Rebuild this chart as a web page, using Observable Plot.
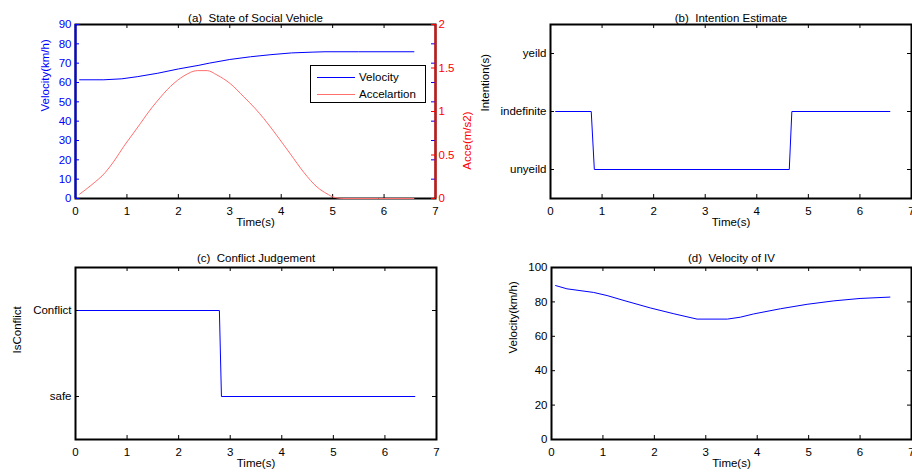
<!DOCTYPE html>
<html><head><meta charset="utf-8">
<script src="https://cdn.jsdelivr.net/npm/d3@7"></script>
<script src="https://cdn.jsdelivr.net/npm/@observablehq/plot@0.6"></script>
<style>
body{margin:0;background:#fff;}
#wrap{position:relative;width:912px;height:476px;overflow:hidden;font-family:"Liberation Sans",Arial,sans-serif;}
#wrap svg{position:absolute;left:0;top:0;}
.legend{position:absolute;left:310px;top:65px;width:114px;height:36px;border:1px solid #000;background:#fff;font-size:11.5px;color:#000;}
.legend .row{position:absolute;left:0;height:14px;line-height:14px;}
.legend .sw{position:absolute;left:6px;width:38px;height:1px;top:7px;}
.legend .lb{position:absolute;left:48px;top:0;white-space:nowrap;}
</style></head><body><div id="wrap"></div>
<script>
// ---------- data ----------
const timeTicks = [0, 1, 2, 3, 4, 5, 6, 7];
const svVelocityTicks = [0, 10, 20, 30, 40, 50, 60, 70, 80, 90];
const svAccelTicks = [0, 0.5, 1, 1.5, 2];
const ivVelocityTicks = [0, 20, 40, 60, 80, 100];

const titles = ["(a)\u00a0 State of Social Vehicle", "(b)\u00a0 Intention Estimate", "(c)\u00a0 Conflict Judgement", "(d)\u00a0 Velocity of IV"];
const legendNames = ["Velocity", "Accelartion"];

// (a) social vehicle velocity (km/h)
const svTime     = [0.08, 0.55, 0.9, 1.2, 1.6, 2.0, 2.4, 2.6, 3.0, 3.4, 3.8, 4.2, 4.6, 4.85, 5.5, 6.58];
const svVelocity = [61.4, 61.4, 61.9, 63.0, 64.8, 67.0, 68.9, 70.0, 71.9, 73.3, 74.4, 75.3, 75.7, 75.9, 75.9, 75.9];
// (a) social vehicle acceleration (m/s2)
const accTime  = [0.08, 0.32, 0.58, 0.75, 0.94, 1.1, 1.26, 1.39, 1.59, 1.85, 2.11, 2.37, 2.56, 2.75, 3.01, 3.27, 3.5, 3.66, 3.92, 4.18, 4.44, 4.7, 4.89, 5.02, 5.2, 6.58];
const accValue = [0.05, 0.16, 0.30, 0.43, 0.60, 0.73, 0.86, 0.97, 1.12, 1.29, 1.41, 1.47, 1.47, 1.42, 1.32, 1.17, 1.03, 0.92, 0.72, 0.51, 0.30, 0.13, 0.054, 0.015, 0, 0];

// (b) intention estimate
const intentionLevels = ["unyeild", "indefinite", "yeild"];
const intentionTime  = [0.1, 0.79, 0.85, 4.63, 4.68, 6.58];
const intentionState = ["indefinite", "indefinite", "unyeild", "unyeild", "indefinite", "indefinite"];

// (c) conflict judgement
const conflictLevels = ["safe", "Conflict"];
const conflictTime  = [0.05, 2.79, 2.83, 6.58];
const conflictState = ["Conflict", "Conflict", "safe", "safe"];

// (d) velocity of IV (km/h)
const ivTime     = [0.08, 0.3, 0.82, 1.08, 1.41, 1.92, 2.38, 2.83, 3.42, 3.67, 3.93, 4.45, 4.97, 5.49, 6.0, 6.58];
const ivVelocity = [89.5, 87.6, 85.5, 83.7, 80.8, 76.5, 73.1, 70.0, 70.0, 71.1, 73.0, 76.0, 78.6, 80.6, 82.0, 82.8];

// ---------- helpers ----------
const W = 912, H = 476;
const FONT = '"Liberation Sans", Arial, sans-serif';
const FS = "11.5px";
const TL = 4; // inward tick length
const FRAME_W = 2;
const zip = (xs, ys) => xs.map((x, i) => ({x, y: ys[i]}));
const fmt = d => String(d);

function base(m) {
  return {
    width: W, height: H,
    marginLeft: m.l, marginRight: W - m.r, marginTop: m.t, marginBottom: H - m.b,
    style: {background: "transparent", overflow: "visible", fontFamily: FONT, fontSize: FS, color: "black"}
  };
}
function inwardX(m, ticks) {
  const fh = m.b - m.t;
  return [
    Plot.tickX(ticks, {x: d => d, insetTop: fh - TL, stroke: "black"}),
    Plot.tickX(ticks, {x: d => d, insetBottom: fh - TL, stroke: "black"})
  ];
}
function inwardY(m, ticks, color, sides) {
  const fw = m.r - m.l;
  const out = [];
  if (sides.includes("left")) out.push(Plot.tickY(ticks, {y: d => d, insetRight: fw - TL, stroke: color}));
  if (sides.includes("right")) out.push(Plot.tickY(ticks, {y: d => d, insetLeft: fw - TL, stroke: color}));
  return out;
}
function xAxis() {
  return Plot.axisX({ticks: timeTicks, tickFormat: fmt, tickSize: 0, tickPadding: 8, label: null, fill: "black"});
}

const wrap = document.getElementById("wrap");

// ---------- (a) velocity (left axis) ----------
const mA = {l: 75, r: 435, t: 24, b: 198};
wrap.append(Plot.plot({
  ...base(mA),
  x: {domain: [0, 7]},
  y: {domain: [0, 90]},
  marks: [
    Plot.frame({stroke: "black", strokeWidth: FRAME_W}),
    Plot.ruleX([0], {stroke: "blue", strokeWidth: FRAME_W}),
    ...inwardX(mA, timeTicks.slice(1, -1)),
    ...inwardY(mA, svVelocityTicks, "blue", ["left", "right"]),
    xAxis(),
    Plot.axisY({ticks: svVelocityTicks, tickFormat: fmt, tickSize: 0, tickPadding: 4, label: null, fill: "blue"}),
    Plot.line(zip(svTime, svVelocity), {x: "x", y: "y", stroke: "blue", strokeWidth: 1}),
    Plot.text([titles[0]], {frameAnchor: "top", dy: -11, fill: "black"}),
    Plot.text(["Time(s)"], {frameAnchor: "bottom", dy: 27, fill: "black"}),
    Plot.text(["Velocity(km/h)"], {frameAnchor: "left", rotate: -90, dx: -30, fill: "blue"})
  ]
}));

// ---------- (a) acceleration (right axis) ----------
wrap.append(Plot.plot({
  ...base(mA),
  x: {domain: [0, 7], axis: null},
  y: {domain: [0, 2]},
  marks: [
    Plot.ruleX([7], {stroke: "red", strokeWidth: FRAME_W}),
    ...inwardY(mA, svAccelTicks, "red", ["right"]),
    Plot.axisY({anchor: "right", ticks: svAccelTicks, tickFormat: fmt, tickSize: 0, tickPadding: 3, label: null, fill: "red"}),
    Plot.line(zip(accTime, accValue), {x: "x", y: "y", stroke: "#ff6f6f", strokeWidth: 1, curve: "monotone-x"}),
    Plot.text(["Acce(m/s2)"], {frameAnchor: "right", rotate: -90, dx: 32, fill: "red"})
  ]
}));

// ---------- (b) intention ----------
const mB = {l: 550, r: 911, t: 24, b: 198};
const intentionValues = intentionState.map(s => intentionLevels.indexOf(s) + 1);
const intentionTicks = intentionLevels.map((_, i) => i + 1);
wrap.append(Plot.plot({
  ...base(mB),
  x: {domain: [0, 7]},
  y: {domain: [0.5, 3.5]},
  marks: [
    Plot.frame({stroke: "black", strokeWidth: FRAME_W}),
    ...inwardX(mB, timeTicks.slice(1, -1)),
    ...inwardY(mB, intentionTicks, "black", ["left", "right"]),
    xAxis(),
    Plot.axisY({ticks: intentionTicks, tickFormat: d => intentionLevels[d - 1], tickSize: 0, tickPadding: 4, label: null, fill: "black"}),
    Plot.line(zip(intentionTime, intentionValues), {x: "x", y: "y", stroke: "blue", strokeWidth: 1}),
    Plot.text([titles[1]], {frameAnchor: "top", dy: -11, fill: "black"}),
    Plot.text(["Time(s)"], {frameAnchor: "bottom", dy: 27, fill: "black"}),
    Plot.text(["Intention(s)"], {frameAnchor: "left", rotate: -90, dx: -65, fill: "black"})
  ]
}));

// ---------- (c) conflict ----------
const mC = {l: 75, r: 436, t: 267, b: 439};
const conflictValues = conflictState.map(s => conflictLevels.indexOf(s));
const conflictTicks = conflictLevels.map((_, i) => i);
wrap.append(Plot.plot({
  ...base(mC),
  x: {domain: [0, 7]},
  y: {domain: [-0.5, 1.5]},
  marks: [
    Plot.frame({stroke: "black", strokeWidth: FRAME_W}),
    ...inwardX(mC, timeTicks.slice(1, -1)),
    ...inwardY(mC, conflictTicks, "black", ["left", "right"]),
    xAxis(),
    Plot.axisY({ticks: conflictTicks, tickFormat: d => conflictLevels[d], tickSize: 0, tickPadding: 4, label: null, fill: "black"}),
    Plot.line(zip(conflictTime, conflictValues), {x: "x", y: "y", stroke: "blue", strokeWidth: 1}),
    Plot.text([titles[2]], {frameAnchor: "top", dy: -13.5, fill: "black"}),
    Plot.text(["Time(s)"], {frameAnchor: "bottom", dy: 27, fill: "black"}),
    Plot.text(["IsConflict"], {frameAnchor: "left", rotate: -90, dx: -58, fill: "black"})
  ]
}));

// ---------- (d) velocity of IV ----------
const mD = {l: 551, r: 911, t: 267, b: 439};
wrap.append(Plot.plot({
  ...base(mD),
  x: {domain: [0, 7]},
  y: {domain: [0, 100]},
  marks: [
    Plot.frame({stroke: "black", strokeWidth: FRAME_W}),
    ...inwardX(mD, timeTicks.slice(1, -1)),
    ...inwardY(mD, ivVelocityTicks, "black", ["left", "right"]),
    xAxis(),
    Plot.axisY({ticks: ivVelocityTicks, tickFormat: fmt, tickSize: 0, tickPadding: 4, label: null, fill: "black"}),
    Plot.line(zip(ivTime, ivVelocity), {x: "x", y: "y", stroke: "blue", strokeWidth: 1}),
    Plot.text([titles[3]], {frameAnchor: "top", dy: -13.5, fill: "black"}),
    Plot.text(["Time(s)"], {frameAnchor: "bottom", dy: 27, fill: "black"}),
    Plot.text(["Velocity(km/h)"], {frameAnchor: "left", rotate: -90, dx: -38, fill: "black"})
  ]
}));

// ---------- legend for (a) ----------
const legendColors = ["blue", "#ff6f6f"];
const lg = document.createElement("div");
lg.className = "legend";
legendNames.forEach((name, i) => {
  const row = document.createElement("div");
  row.className = "row";
  row.style.top = (4 + i * 17) + "px";
  row.style.width = "100%";
  const sw = document.createElement("span");
  sw.className = "sw";
  sw.style.background = legendColors[i];
  const lb = document.createElement("span");
  lb.className = "lb";
  lb.textContent = name;
  row.append(sw, lb);
  lg.append(row);
});
wrap.append(lg);
</script>
</body></html>
